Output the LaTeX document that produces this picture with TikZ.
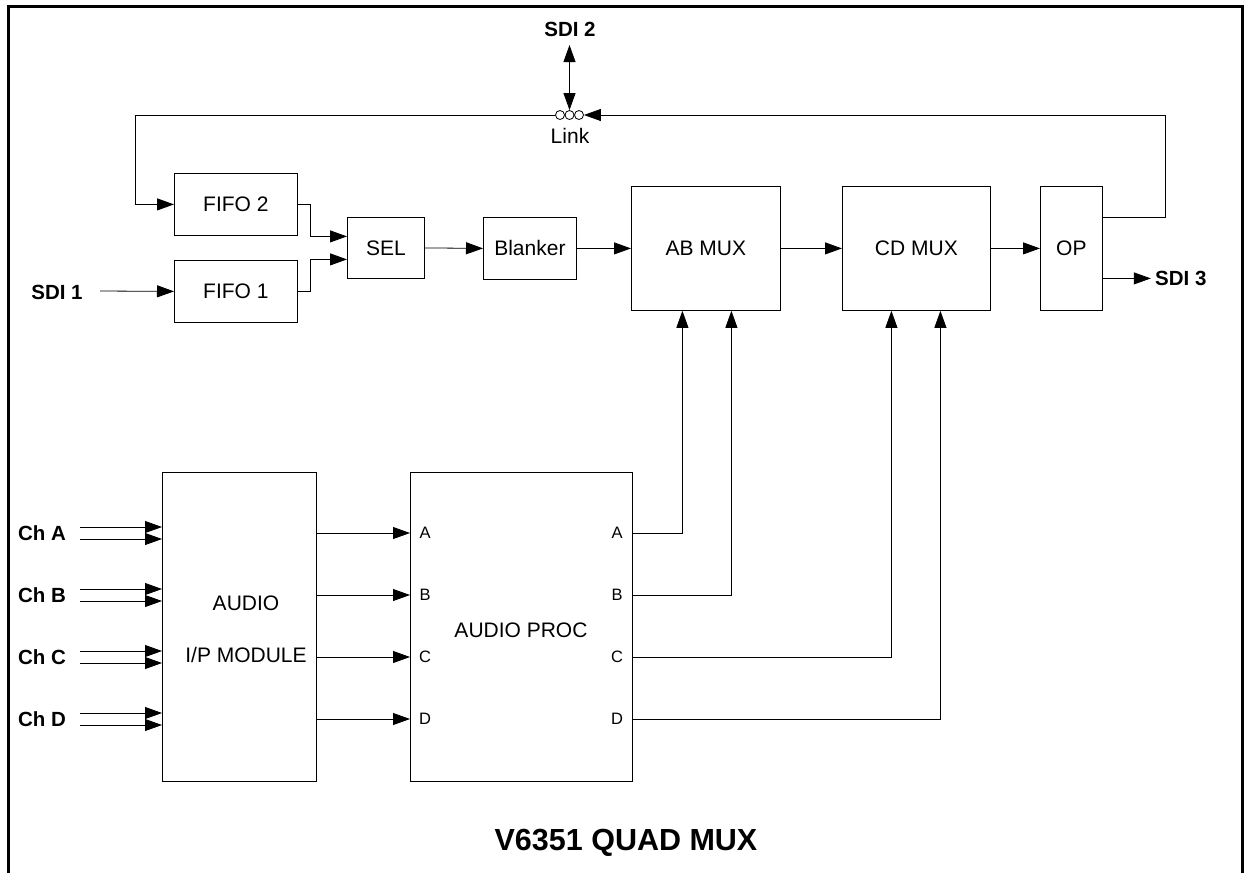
\documentclass[tikz,border=0pt]{standalone}
\usepackage{fontspec}
\setmainfont{Liberation Sans}
\usetikzlibrary{arrows.meta}
\begin{document}
\begin{tikzpicture}[x=1pt,y=-1pt,
  blk/.style={draw, line width=0.8pt, inner sep=0pt, anchor=north west, font=\fontsize{21}{25}\selectfont},
  arr/.style={line width=0.8pt, -{Triangle[length=17pt,width=12pt]}},
  dbl/.style={line width=0.8pt, {Triangle[length=17pt,width=12pt]}-{Triangle[length=17pt,width=12pt]}},
  ln/.style={line width=0.8pt},
  lbl/.style={font=\bfseries\fontsize{20.5}{24}\selectfont, inner sep=0pt},
  txt/.style={font=\fontsize{21}{25}\selectfont, inner sep=0pt},
  port/.style={font=\fontsize{16.5}{20}\selectfont, inner sep=0pt},
  lnk/.style={circle, draw, fill=white, line width=0.8pt, minimum size=9pt, inner sep=0pt},
  frame/.style={line width=3pt}
]
\useasboundingbox (0,0) rectangle (1244,873);
% frame (open at the bottom)
\draw[frame] (8,873) -- (8,6) -- (1242,6) -- (1242,873);

% blocks
\node[blk, minimum width=123, minimum height=62] (fifo2) at (174,173) {FIFO 2};
\node[blk, minimum width=123, minimum height=62] (fifo1) at (174,260) {FIFO 1};
\node[blk, minimum width=77, minimum height=61] (sel) at (347,217) {SEL};
\node[blk, minimum width=93, minimum height=62] (blanker) at (483,217) {Blanker};
\node[blk, minimum width=149, minimum height=124] (abmux) at (631,186) {AB MUX};
\node[blk, minimum width=148, minimum height=124] (cdmux) at (842,186) {CD MUX};
\node[blk, minimum width=62, minimum height=124] (op) at (1040,186) {OP};
\node[blk, minimum width=154, minimum height=309] (aim) at (162,472) {};
\node[blk, minimum width=222, minimum height=309] (proc) at (410,472) {};
\node[txt] (aimt1) at (246,603) {AUDIO};
\node[txt] (aimt2) at (246,655) {I/P MODULE};
\node[txt] (proct) at (521,630) {AUDIO PROC};

% link
\node[lnk] (lk1) at (560,115) {};
\node[lnk] (lk2) at (569.5,115) {};
\node[lnk] (lk3) at (579,115) {};
\node[txt] (linkt) at (570,136) {Link};

% labels
\node[lbl] (sdi2) at (570,29) {SDI 2};
\node[lbl] (sdi1) at (57,292) {SDI 1};
\node[lbl, anchor=west] (sdi3) at (1155,278) {SDI 3};
\node[font=\bfseries\fontsize{30.5}{34}\selectfont, inner sep=0pt] (title) at (626,843) {V6351 QUAD MUX};

% SDI connections
\coordinate (s2) at (569.5,45);
\draw[dbl] (s2) -- (lk2.north);
\coordinate (s1) at (100,291);
\draw[arr] (s1) -- (fifo1.west);
\draw[arr] ([yshift=-30pt]op.east) -- ++(48,0);

% feedback loop
\coordinate (fbr) at (1165,115);
\coordinate (fbl) at (135,115);
\draw[arr] ([yshift=31pt]op.east) -| (fbr) -- (lk3.east);
\draw[arr] (lk1.west) -- (fbl) |- (fifo2.west);

% FIFO to SEL
\draw[arr] (fifo2.east) -- ++(13,0) |- ([yshift=11.5pt]sel.west);
\draw[arr] (fifo1.east) -- ++(13,0) |- ([yshift=-11.5pt]sel.west);

% main chain
\draw[arr] (sel.east) -- (blanker.west);
\draw[arr] (blanker.east) -- (abmux.west);
\draw[arr] (abmux.east) -- (cdmux.west);
\draw[arr] (cdmux.east) -- (op.west);

% audio inputs and ports
\foreach \n/\y in {A/533,B/595,C/657,D/719}{
  \node[lbl] (ch\n) at (42,\y) {Ch \n};
  \coordinate (ch\n1) at (80,\y-6);
  \coordinate (ch\n2) at (80,\y+6);
  \draw[arr] (ch\n1) -- (aim.west |- ch\n1);
  \draw[arr] (ch\n2) -- (aim.west |- ch\n2);
  \coordinate (pin\n) at (410,\y);
  \coordinate (pout\n) at (632,\y);
  \draw[arr] (aim.east |- pin\n) -- (pin\n);
  \node[port] (pl\n) at (425,\y) {\n};
  \node[port] (pr\n) at (617,\y) {\n};
}

% audio outputs to muxes
\draw[arr] (poutA) -| ([xshift=-23.5pt]abmux.south);
\draw[arr] (poutB) -| ([xshift=25.5pt]abmux.south);
\draw[arr] (poutC) -| ([xshift=-25pt]cdmux.south);
\draw[arr] (poutD) -| ([xshift=24pt]cdmux.south);
\end{tikzpicture}
\end{document}
